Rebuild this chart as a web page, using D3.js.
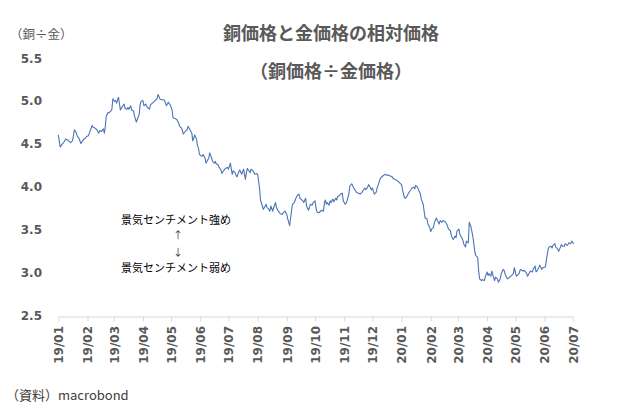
<!DOCTYPE html>
<html>
<head>
<meta charset="utf-8">
<script src="https://cdn.jsdelivr.net/npm/d3@7"></script>
<style>
	body { margin: 0; background: #fff; }
	svg { display: block; }
</style>
</head>
<body>
<svg id="chart" width="632" height="415"></svg>
<script>
// copper / gold ratio (roughly every other day)
const dates = [
	'2019-01-01','2019-01-03','2019-01-05','2019-01-06','2019-01-09','2019-01-11','2019-01-12','2019-01-14','2019-01-16','2019-01-17',
	'2019-01-18','2019-01-20','2019-01-21','2019-01-23','2019-01-25','2019-01-27','2019-01-28','2019-01-30','2019-01-31','2019-02-02',
	'2019-02-03','2019-02-05','2019-02-06','2019-02-07','2019-02-09','2019-02-11','2019-02-13','2019-02-14','2019-02-16','2019-02-18',
	'2019-02-19','2019-02-20','2019-02-21','2019-02-23','2019-02-24','2019-02-26','2019-02-27','2019-02-28','2019-03-02','2019-03-03',
	'2019-03-04','2019-03-06','2019-03-08','2019-03-09','2019-03-10','2019-03-12','2019-03-13','2019-03-15','2019-03-16','2019-03-17',
	'2019-03-19','2019-03-20','2019-03-22','2019-03-23','2019-03-25','2019-03-26','2019-03-28','2019-03-29','2019-03-30','2019-04-01',
	'2019-04-02','2019-04-04','2019-04-05','2019-04-06','2019-04-08','2019-04-09','2019-04-11','2019-04-12','2019-04-14','2019-04-15',
	'2019-04-16','2019-04-17','2019-04-18','2019-04-19','2019-04-21','2019-04-23','2019-04-24','2019-04-26','2019-04-28','2019-04-30',
	'2019-05-02','2019-05-03','2019-05-05','2019-05-07','2019-05-09','2019-05-10','2019-05-12','2019-05-14','2019-05-16','2019-05-18',
	'2019-05-19','2019-05-21','2019-05-23','2019-05-24','2019-05-25','2019-05-26','2019-05-28','2019-05-29','2019-05-30','2019-05-31',
	'2019-06-01','2019-06-03','2019-06-04','2019-06-06','2019-06-07','2019-06-08','2019-06-10','2019-06-11','2019-06-13','2019-06-14',
	'2019-06-16','2019-06-17','2019-06-18','2019-06-20','2019-06-21','2019-06-23','2019-06-24','2019-06-25','2019-06-27','2019-06-28',
	'2019-06-30','2019-07-01','2019-07-03','2019-07-04','2019-07-05','2019-07-06','2019-07-08','2019-07-09','2019-07-10','2019-07-12',
	'2019-07-13','2019-07-15','2019-07-17','2019-07-19','2019-07-20','2019-07-21','2019-07-22','2019-07-24','2019-07-25','2019-07-27',
	'2019-07-28','2019-07-29','2019-07-31','2019-08-01','2019-08-03','2019-08-04','2019-08-06','2019-08-07','2019-08-08','2019-08-10',
	'2019-08-11','2019-08-13','2019-08-14','2019-08-15','2019-08-17','2019-08-18','2019-08-20','2019-08-21','2019-08-23','2019-08-25',
	'2019-08-27','2019-08-28','2019-08-30','2019-09-01','2019-09-02','2019-09-04','2019-09-05','2019-09-07','2019-09-08','2019-09-09',
	'2019-09-11','2019-09-12','2019-09-14','2019-09-15','2019-09-16','2019-09-18','2019-09-19','2019-09-21','2019-09-22','2019-09-24',
	'2019-09-25','2019-09-26','2019-09-28','2019-09-29','2019-10-01','2019-10-02','2019-10-03','2019-10-05','2019-10-06','2019-10-08',
	'2019-10-10','2019-10-11','2019-10-12','2019-10-13','2019-10-14','2019-10-16','2019-10-17','2019-10-18','2019-10-20','2019-10-21',
	'2019-10-23','2019-10-24','2019-10-25','2019-10-27','2019-10-28','2019-10-30','2019-10-31','2019-11-02','2019-11-03','2019-11-04',
	'2019-11-06','2019-11-07','2019-11-09','2019-11-10','2019-11-11','2019-11-13','2019-11-14','2019-11-16','2019-11-18','2019-11-20',
	'2019-11-21','2019-11-23','2019-11-24','2019-11-26','2019-11-27','2019-11-28','2019-11-30','2019-12-01','2019-12-02','2019-12-03',
	'2019-12-05','2019-12-06','2019-12-08','2019-12-09','2019-12-10','2019-12-12','2019-12-13','2019-12-15','2019-12-16','2019-12-18',
	'2019-12-20','2019-12-22','2019-12-23','2019-12-25','2019-12-27','2019-12-29','2019-12-30','2020-01-01','2020-01-02','2020-01-04',
	'2020-01-05','2020-01-06','2020-01-08','2020-01-09','2020-01-11','2020-01-12','2020-01-14','2020-01-15','2020-01-16','2020-01-18',
	'2020-01-19','2020-01-21','2020-01-22','2020-01-24','2020-01-25','2020-01-26','2020-01-28','2020-01-29','2020-01-31','2020-02-01',
	'2020-02-02','2020-02-04','2020-02-05','2020-02-07','2020-02-08','2020-02-10','2020-02-11','2020-02-13','2020-02-14','2020-02-16',
	'2020-02-18','2020-02-20','2020-02-22','2020-02-23','2020-02-25','2020-02-27','2020-02-28','2020-02-29','2020-03-02','2020-03-03',
	'2020-03-05','2020-03-06','2020-03-07','2020-03-09','2020-03-10','2020-03-12','2020-03-13','2020-03-15','2020-03-16','2020-03-17',
	'2020-03-19','2020-03-20','2020-03-22','2020-03-23','2020-03-24','2020-03-26','2020-03-27','2020-03-29','2020-03-30','2020-04-01',
	'2020-04-02','2020-04-03','2020-04-05','2020-04-06','2020-04-08','2020-04-09','2020-04-10','2020-04-12','2020-04-13','2020-04-15',
	'2020-04-16','2020-04-18','2020-04-19','2020-04-20','2020-04-22','2020-04-23','2020-04-25','2020-04-26','2020-04-27','2020-04-29',
	'2020-04-30','2020-05-02','2020-05-03','2020-05-05','2020-05-06','2020-05-07','2020-05-09','2020-05-10','2020-05-12','2020-05-13',
	'2020-05-14','2020-05-16','2020-05-17','2020-05-19','2020-05-20','2020-05-22','2020-05-23','2020-05-24','2020-05-26','2020-05-27',
	'2020-05-29','2020-05-30','2020-05-31','2020-06-02','2020-06-03','2020-06-05','2020-06-06','2020-06-08','2020-06-09','2020-06-10',
	'2020-06-12','2020-06-13','2020-06-15','2020-06-16','2020-06-18','2020-06-19','2020-06-20','2020-06-22','2020-06-23','2020-06-25',
	'2020-06-26','2020-06-27','2020-06-29','2020-06-30','2020-07-02'
]

const ratio = [
	4.62,4.48,4.51,4.52,4.57,4.56,4.55,4.53,4.55,4.60,
	4.68,4.65,4.61,4.58,4.52,4.55,4.57,4.58,4.60,4.61,
	4.64,4.70,4.73,4.71,4.70,4.68,4.64,4.67,4.66,4.69,
	4.64,4.72,4.84,4.88,4.88,4.90,4.92,5.04,5.01,5.02,
	4.99,5.06,4.91,4.93,4.95,4.98,4.93,4.92,4.94,4.92,
	4.96,4.91,4.90,4.84,4.77,4.80,4.86,4.97,5.01,5.02,
	4.96,4.98,4.95,4.94,4.92,4.97,4.99,5.00,5.02,5.03,
	5.04,5.09,5.07,5.04,5.03,5.03,5.02,4.96,5.00,4.97,
	4.91,4.82,4.81,4.80,4.76,4.72,4.70,4.63,4.66,4.68,
	4.72,4.68,4.64,4.55,4.58,4.62,4.57,4.49,4.47,4.40,
	4.38,4.37,4.39,4.35,4.29,4.31,4.35,4.41,4.35,4.31,
	4.29,4.31,4.28,4.27,4.24,4.21,4.17,4.19,4.22,4.23,
	4.24,4.22,4.29,4.22,4.16,4.20,4.18,4.15,4.13,4.19,
	4.21,4.16,4.22,4.10,4.18,4.23,4.21,4.18,4.22,4.20,
	4.18,4.16,4.17,4.16,4.00,3.86,3.79,3.75,3.77,3.81,
	3.77,3.75,3.73,3.79,3.73,3.77,3.83,3.77,3.73,3.70,
	3.69,3.71,3.73,3.69,3.64,3.56,3.65,3.81,3.82,3.83,
	3.89,3.91,3.93,3.88,3.87,3.85,3.83,3.88,3.79,3.74,
	3.77,3.81,3.80,3.83,3.85,3.77,3.72,3.71,3.72,3.74,
	3.73,3.83,3.86,3.81,3.83,3.80,3.85,3.83,3.87,3.84,
	3.88,3.86,3.90,3.91,3.93,3.94,3.85,3.81,3.82,3.85,
	3.93,4.02,4.05,4.03,4.00,3.97,3.95,3.94,3.93,3.95,
	3.97,4.00,3.98,4.01,4.04,4.02,3.98,4.00,3.96,3.93,
	3.95,4.00,4.06,4.10,4.12,4.14,4.15,4.16,4.15,4.15,
	4.14,4.13,4.11,4.10,4.09,4.07,4.06,4.04,3.98,3.89,
	3.88,3.89,3.93,3.95,3.98,4.00,4.01,3.99,4.03,4.01,
	3.98,3.93,3.87,3.81,3.73,3.65,3.64,3.58,3.54,3.49,
	3.52,3.54,3.60,3.65,3.62,3.58,3.62,3.60,3.62,3.61,
	3.58,3.52,3.50,3.44,3.40,3.44,3.42,3.50,3.52,3.46,
	3.42,3.40,3.35,3.31,3.38,3.36,3.60,3.54,3.48,3.42,
	3.25,3.21,3.19,3.03,2.94,2.92,2.93,2.92,2.96,3.02,
	2.98,3.00,2.97,3.03,2.95,2.92,2.96,2.94,2.90,2.94,
	3.00,3.05,3.04,3.00,2.95,2.94,2.96,2.97,2.98,3.00,
	3.07,2.97,2.98,3.00,3.04,3.05,3.03,3.04,3.02,3.00,
	2.97,3.01,3.03,3.02,3.05,3.09,3.02,3.03,3.07,3.10,
	3.05,3.07,3.07,3.08,3.16,3.29,3.31,3.32,3.30,3.33,
	3.35,3.31,3.29,3.26,3.31,3.34,3.32,3.32,3.35,3.33,
	3.34,3.36,3.35,3.38,3.35
]

const yTicks = [2.5, 3.0, 3.5, 4.0, 4.5, 5.0, 5.5]
const xStart = '2019-01-01'
const xEnd = '2020-07-01'

const title = '銅価格と金価格の相対価格'
const subtitle = '（銅価格÷金価格）'
const unitLabel = '（銅÷金）'
const sourceLabel = '（資料）macrobond'
const noteUp = '景気センチメント強め'
const noteDown = '景気センチメント弱め'

const JP_FONT = '"Noto Sans CJK JP", sans-serif'
const NUM_FONT = '"DejaVu Sans", sans-serif'
const GREY = '#595959'
const AXIS_GREY = '#d9d9d9'
const LINE_BLUE = '#4a74b4'

const parseDate = d3.timeParse('%Y-%m-%d')
const series = dates.map((d, i) => ({ date: parseDate(d), value: ratio[i] }))

const svg = d3.select('#chart')

const x = d3.scaleTime()
	.domain([parseDate(xStart), parseDate(xEnd)])
	.range([58.3, 572.7])

const y = d3.scaleLinear()
	.domain([2.5, 5.5])
	.range([316.5, 59.5])

// x axis: monthly ticks, labels rotated
const xAxis = svg.append('g')
	.attr('transform', `translate(0,${y(2.5)})`)
	.call(d3.axisBottom(x)
		.ticks(d3.timeMonth.every(1))
		.tickFormat(d3.timeFormat('%y/%m'))
		.tickSize(5)
		.tickSizeOuter(0))

xAxis.select('.domain').attr('stroke', AXIS_GREY)
xAxis.selectAll('.tick line').attr('stroke', AXIS_GREY)
xAxis.selectAll('.tick text')
	.attr('transform', 'rotate(-90)')
	.attr('x', -9.5)
	.attr('y', 0)
	.attr('dy', '0.36em')
	.style('text-anchor', 'end')
	.style('font-family', NUM_FONT)
	.style('font-weight', 'bold')
	.style('font-size', '12px')
	.attr('fill', GREY)

// y axis: labels only
const yAxis = svg.append('g')
	.attr('transform', 'translate(42,0)')
	.call(d3.axisLeft(y)
		.tickValues(yTicks)
		.tickFormat(d3.format('.1f'))
		.tickSize(0)
		.tickPadding(0))

yAxis.select('.domain').remove()
yAxis.selectAll('.tick text')
	.attr('dy', '0.22em')
	.style('font-family', NUM_FONT)
	.style('font-weight', 'bold')
	.style('font-size', '12px')
	.attr('fill', GREY)

const line = d3.line()
	.x(d => x(d.date))
	.y(d => y(d.value))

svg.append('path')
	.datum(series)
	.attr('d', line)
	.attr('fill', 'none')
	.attr('stroke', LINE_BLUE)
	.attr('stroke-width', 1.1)
	.attr('stroke-linejoin', 'round')

// titles
svg.append('text')
	.attr('x', 331)
	.attr('y', 40)
	.attr('text-anchor', 'middle')
	.style('font-family', JP_FONT)
	.style('font-weight', 'bold')
	.style('font-size', '18px')
	.attr('fill', GREY)
	.text(title)

svg.append('text')
	.attr('x', 331)
	.attr('y', 78)
	.attr('text-anchor', 'middle')
	.style('font-family', JP_FONT)
	.style('font-weight', 'bold')
	.style('font-size', '18px')
	.attr('fill', GREY)
	.text(subtitle)

svg.append('text')
	.attr('x', 10)
	.attr('y', 39)
	.style('font-family', JP_FONT)
	.style('font-size', '12.5px')
	.attr('fill', GREY)
	.text(unitLabel)

svg.append('text')
	.attr('x', 6)
	.attr('y', 400)
	.style('font-family', JP_FONT)
	.style('font-size', '13px')
	.attr('fill', '#404040')
	.text(sourceLabel)

// sentiment note
const note = svg.append('g')
	.attr('transform', 'translate(176,0)')
	.style('font-family', JP_FONT)
	.style('font-size', '11px')
	.attr('text-anchor', 'middle')
	.attr('fill', '#000')

note.append('text').attr('y', 224).text(noteUp)
note.append('text').attr('x', 2).attr('y', 239).attr('fill', '#333').style('font-size', '10px').text('↑')
note.append('text').attr('x', 2).attr('y', 256).attr('fill', '#333').style('font-size', '10px').text('↓')
note.append('text').attr('y', 272).text(noteDown)
</script>
</body>
</html>
